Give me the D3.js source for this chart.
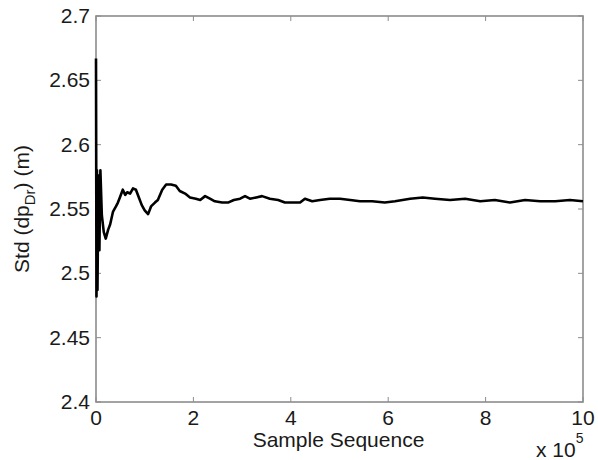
<!DOCTYPE html>
<html>
<head>
  <script src="https://d3js.org/d3.v7.min.js"></script>
  <style>
    body { margin: 0; background: #fff; }
    svg { display: block; font-family: Arial, "Liberation Sans", sans-serif; }
    .tick-label { font-size: 21px; fill: #1a1a1a; }
  </style>
</head>
<body>
<svg id="chart" width="598" height="460"></svg>
<script>
  // sample index in units of 1e5
  const samples = [0, 0.01, 0.02, 0.03, 0.05, 0.07, 0.09, 0.12, 0.16, 0.2, 0.25, 0.29, 0.35, 0.41, 0.45,
    0.49, 0.55, 0.6, 0.64, 0.7, 0.76, 0.82, 0.88, 0.94, 1.0, 1.07, 1.13, 1.21, 1.27, 1.36, 1.44,
    1.54, 1.64, 1.72, 1.83, 1.93, 2.05, 2.14, 2.24, 2.34, 2.44, 2.59, 2.71, 2.83, 2.96, 3.06, 3.16,
    3.29, 3.41, 3.57, 3.74, 3.88, 4.09, 4.19, 4.29, 4.44, 4.6, 4.8, 5.01, 5.22, 5.42, 5.67, 5.93,
    6.14, 6.45, 6.71, 6.96, 7.27, 7.58, 7.89, 8.19, 8.5, 8.81, 9.12, 9.43, 9.73, 10.0];
  const stdValues = [2.667, 2.482, 2.580, 2.487, 2.576, 2.518, 2.580, 2.545, 2.532, 2.527, 2.534, 2.538, 2.548, 2.552, 2.555,
    2.559, 2.565, 2.561, 2.563, 2.562, 2.566, 2.565, 2.559, 2.553, 2.549, 2.546, 2.552, 2.555, 2.557, 2.565, 2.569,
    2.569, 2.568, 2.564, 2.562, 2.559, 2.558, 2.557, 2.560, 2.558, 2.556, 2.555, 2.555, 2.557, 2.558, 2.560, 2.558,
    2.559, 2.560, 2.558, 2.557, 2.555, 2.555, 2.555, 2.558, 2.556, 2.557, 2.558, 2.558, 2.557, 2.556, 2.556, 2.555,
    2.556, 2.558, 2.559, 2.558, 2.557, 2.558, 2.556, 2.557, 2.555, 2.557, 2.556, 2.556, 2.557, 2.556];
  const xTicks = [0, 2, 4, 6, 8, 10];
  const yTicks = [2.4, 2.45, 2.5, 2.55, 2.6, 2.65, 2.7];

  const svg = d3.select("#chart");
  const plotL = 96, plotR = 583, plotT = 16, plotB = 402;

  const x = d3.scaleLinear().domain([0, 10]).range([plotL, plotR]);
  const y = d3.scaleLinear().domain([2.4, 2.7]).range([plotB, plotT]);

  const axisColor = "#8c8c8c";

  // inward ticks on all four sides (MATLAB box style)
  const g = svg.append("g");
  xTicks.forEach(t => {
    g.append("line").attr("x1", x(t)).attr("x2", x(t)).attr("y1", plotB).attr("y2", plotB - 5)
      .attr("stroke", axisColor).attr("stroke-width", 1);
    g.append("line").attr("x1", x(t)).attr("x2", x(t)).attr("y1", plotT).attr("y2", plotT + 5)
      .attr("stroke", axisColor).attr("stroke-width", 1);
  });
  yTicks.forEach(t => {
    g.append("line").attr("x1", plotL).attr("x2", plotL + 5).attr("y1", y(t)).attr("y2", y(t))
      .attr("stroke", axisColor).attr("stroke-width", 1);
    g.append("line").attr("x1", plotR).attr("x2", plotR - 5).attr("y1", y(t)).attr("y2", y(t))
      .attr("stroke", axisColor).attr("stroke-width", 1);
  });

  // box
  svg.append("rect")
    .attr("x", plotL).attr("y", plotT)
    .attr("width", plotR - plotL).attr("height", plotB - plotT)
    .attr("fill", "none").attr("stroke", axisColor).attr("stroke-width", 1.6);

  // the data line
  const line = d3.line()
    .x((d, i) => x(samples[i]))
    .y(d => y(d));

  svg.append("path")
    .datum(stdValues)
    .attr("fill", "none")
    .attr("stroke", "#000")
    .attr("stroke-width", 2.6)
    .attr("stroke-linejoin", "round")
    .attr("d", line);

  // tick labels
  svg.selectAll(".ylab").data(yTicks).enter().append("text")
    .attr("class", "tick-label")
    .attr("x", plotL - 6)
    .attr("y", d => y(d) + 7)
    .attr("text-anchor", "end")
    .text(d => d3.format("")(d));

  svg.selectAll(".xlab").data(xTicks).enter().append("text")
    .attr("class", "tick-label")
    .attr("x", d => x(d))
    .attr("y", 425)
    .attr("text-anchor", "middle")
    .text(d => d);

  // axis titles
  svg.append("text")
    .attr("class", "tick-label")
    .attr("x", (plotL + plotR) / 2 - 1)
    .attr("y", 447)
    .attr("text-anchor", "middle")
    .text("Sample Sequence");

  const mult = svg.append("text")
    .attr("class", "tick-label")
    .attr("x", 536)
    .attr("y", 457);
  mult.append("tspan").text("x 10");
  mult.append("tspan").attr("dy", -14).attr("font-size", 14).text("5");

  const ylab = svg.append("text")
    .attr("class", "tick-label")
    .attr("transform", `translate(29,${(plotT + plotB) / 2}) rotate(-90)`)
    .attr("text-anchor", "middle");
  ylab.append("tspan").text("Std (dp");
  ylab.append("tspan").attr("dy", 6).attr("font-size", 15).text("Dr");
  ylab.append("tspan").attr("dy", -6).text(") (m)");
</script>
</body>
</html>
